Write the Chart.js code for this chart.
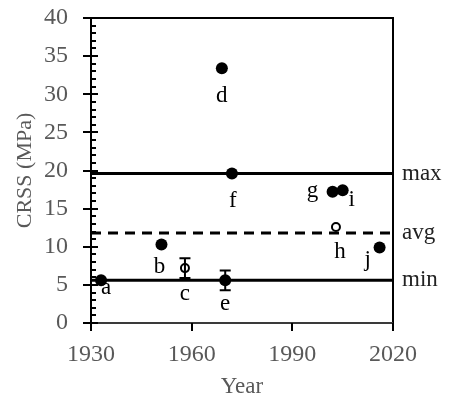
<!DOCTYPE html>
<html>
<head>
<meta charset="utf-8">
<script src="https://cdn.jsdelivr.net/npm/chart.js@4/dist/chart.umd.min.js"></script>
<style>
  html, body { margin: 0; padding: 0; background: #fff; }
  canvas { display: block; }
</style>
</head>
<body>
<canvas id="crssChart" width="449" height="402"></canvas>
<script>
// CRSS values by year of publication
const sampleLabels = ['a', 'b', 'c', 'd', 'e', 'f', 'g', 'h', 'i', 'j'];
const sampleYears  = [1933, 1951, 1958, 1969, 1970, 1972, 2002, 2003, 2005, 2016];
const sampleCrss   = [5.6, 10.3, 7.2, 33.4, 5.6, 19.6, 17.2, 12.6, 17.4, 9.9];
const sampleError  = [0, 0, 1.3, 0, 1.3, 0, 0, 0, 0, 0];
const openMarker   = [false, false, true, false, false, false, false, true, false, false];

// reference levels
const refNames  = ['max', 'avg', 'min'];
const refValues = [19.6, 11.8, 5.6];

const xTicks = [1930, 1960, 1990, 2020];
const yTicks = [0, 5, 10, 15, 20, 25, 30, 35, 40];

// where each letter sits relative to its marker (dx, baseline dy)
const labelOffset = {
    a: [5, 14], b: [-2, 29], c: [0, 32], d: [0, 34], e: [0, 30],
    f: [1, 33], g: [-20, 5], h: [4, 31], i: [9, 16], j: [-12, 18]
};

const SERIF = "'Liberation Serif', 'Times New Roman', serif";

const pointsOf = (filterFn) => sampleYears
    .map((yr, i) => ({ x: yr, y: sampleCrss[i], i }))
    .filter(p => filterFn(p.i));

const frameAndTicks = {
    id: 'frameAndTicks',
    afterDatasetsDraw(chart) {
        const { ctx, chartArea: a, scales: { x, y } } = chart;
        ctx.save();
        ctx.strokeStyle = '#000';
        ctx.lineWidth = 2;
        ctx.beginPath();
        ctx.moveTo(a.left, a.bottom);
        ctx.lineTo(a.left, a.top);
        ctx.lineTo(a.right, a.top);
        ctx.lineTo(a.right, a.bottom);
        ctx.stroke();

        ctx.strokeStyle = '#3a3a3a';
        ctx.beginPath();
        ctx.moveTo(a.left, a.bottom);
        ctx.lineTo(a.right, a.bottom);
        ctx.stroke();

        // y ticks: majors cross the axis, minors point inward
        ctx.strokeStyle = '#000';
        ctx.beginPath();
        for (let v = y.min; v <= y.max; v++) {
            const py = Math.round(y.getPixelForValue(v));
            if (v % 5 === 0) {
                ctx.moveTo(a.left - 8, py);
                ctx.lineTo(a.left + 7, py);
            } else {
                ctx.moveTo(a.left, py);
                ctx.lineTo(a.left + 5, py);
            }
        }
        ctx.stroke();

        ctx.beginPath();
        xTicks.forEach(v => {
            const px = Math.round(x.getPixelForValue(v));
            ctx.moveTo(px, a.bottom);
            ctx.lineTo(px, a.bottom + 8);
        });
        ctx.stroke();

        // error bars
        ctx.lineWidth = 2;
        ctx.beginPath();
        sampleError.forEach((err, i) => {
            if (!err) return;
            const px = x.getPixelForValue(sampleYears[i]);
            const top = y.getPixelForValue(sampleCrss[i] + err);
            const bot = y.getPixelForValue(sampleCrss[i] - err);
            ctx.moveTo(px, top); ctx.lineTo(px, bot);
            ctx.moveTo(px - 5.5, top); ctx.lineTo(px + 5.5, top);
            ctx.moveTo(px - 5.5, bot); ctx.lineTo(px + 5.5, bot);
        });
        ctx.stroke();

        // point letters
        ctx.fillStyle = '#000';
        ctx.font = '23px ' + SERIF;
        ctx.textAlign = 'center';
        ctx.textBaseline = 'alphabetic';
        sampleLabels.forEach((lab, i) => {
            const [dx, dy] = labelOffset[lab];
            ctx.fillText(lab,
                x.getPixelForValue(sampleYears[i]) + dx,
                y.getPixelForValue(sampleCrss[i]) + dy);
        });

        // level names on the right
        ctx.fillStyle = '#222';
        ctx.textAlign = 'left';
        ctx.textBaseline = 'middle';
        refNames.forEach((name, i) => {
            ctx.fillText(name, a.right + 9, y.getPixelForValue(refValues[i]));
        });
        ctx.restore();
    }
};

const refLineSets = refNames.map((name, i) => ({
    label: name,
    type: 'line',
    data: [{ x: 1930, y: refValues[i] }, { x: 2020, y: refValues[i] }],
    borderColor: '#000',
    borderWidth: 3,
    borderDash: name === 'avg' ? [10, 7] : [],
    pointRadius: 0,
    fill: false,
    order: 2
}));

const ctx = document.getElementById('crssChart').getContext('2d');
const crssChart = new Chart(ctx, {
    type: 'scatter',
    data: {
        datasets: [
            {
                label: 'CRSS',
                data: pointsOf(i => !openMarker[i]),
                pointRadius: 6,
                pointBackgroundColor: '#000',
                pointBorderColor: '#000',
                pointBorderWidth: 0,
                order: 1
            },
            {
                label: 'CRSS (open)',
                data: pointsOf(i => openMarker[i]),
                pointRadius: 4,
                pointBackgroundColor: 'rgba(255,255,255,0)',
                pointBorderColor: '#000',
                pointBorderWidth: 2,
                order: 1
            },
            ...refLineSets
        ]
    },
    options: {
        responsive: false,
        animation: false,
        layout: { padding: { top: 18, right: 56, left: 0, bottom: 0 } },
        plugins: {
            legend: { display: false },
            tooltip: { enabled: false }
        },
        scales: {
            x: {
                type: 'linear',
                min: 1930,
                max: 2020,
                afterBuildTicks: s => { s.ticks = xTicks.map(v => ({ value: v })); },
                afterFit: s => {
                    s.height = 79;
                    s.paddingLeft = 0;
                    s.paddingRight = 0;
                },
                grid: { display: false, drawTicks: false },
                border: { display: false },
                ticks: {
                    padding: 17,
                    color: '#595959',
                    font: { family: SERIF, size: 24 },
                    callback: v => String(v)
                },
                title: {
                    display: true,
                    text: 'Year',
                    color: '#595959',
                    font: { family: SERIF, size: 23 },
                    padding: { top: 0, bottom: 1 }
                }
            },
            y: {
                type: 'linear',
                min: 0,
                max: 40,
                afterBuildTicks: s => { s.ticks = yTicks.map(v => ({ value: v })); },
                afterFit: s => {
                    s.width = 91;
                    s.paddingTop = 0;
                    s.paddingBottom = 0;
                },
                grid: { display: false, drawTicks: false },
                border: { display: false },
                ticks: {
                    padding: 23,
                    color: '#595959',
                    font: { family: SERIF, size: 24 }
                },
                title: {
                    display: true,
                    text: 'CRSS (MPa)',
                    color: '#595959',
                    font: { family: SERIF, size: 22 },
                    padding: { top: 12, bottom: 0 }
                }
            }
        }
    },
    plugins: [frameAndTicks]
});
</script>
</body>
</html>
